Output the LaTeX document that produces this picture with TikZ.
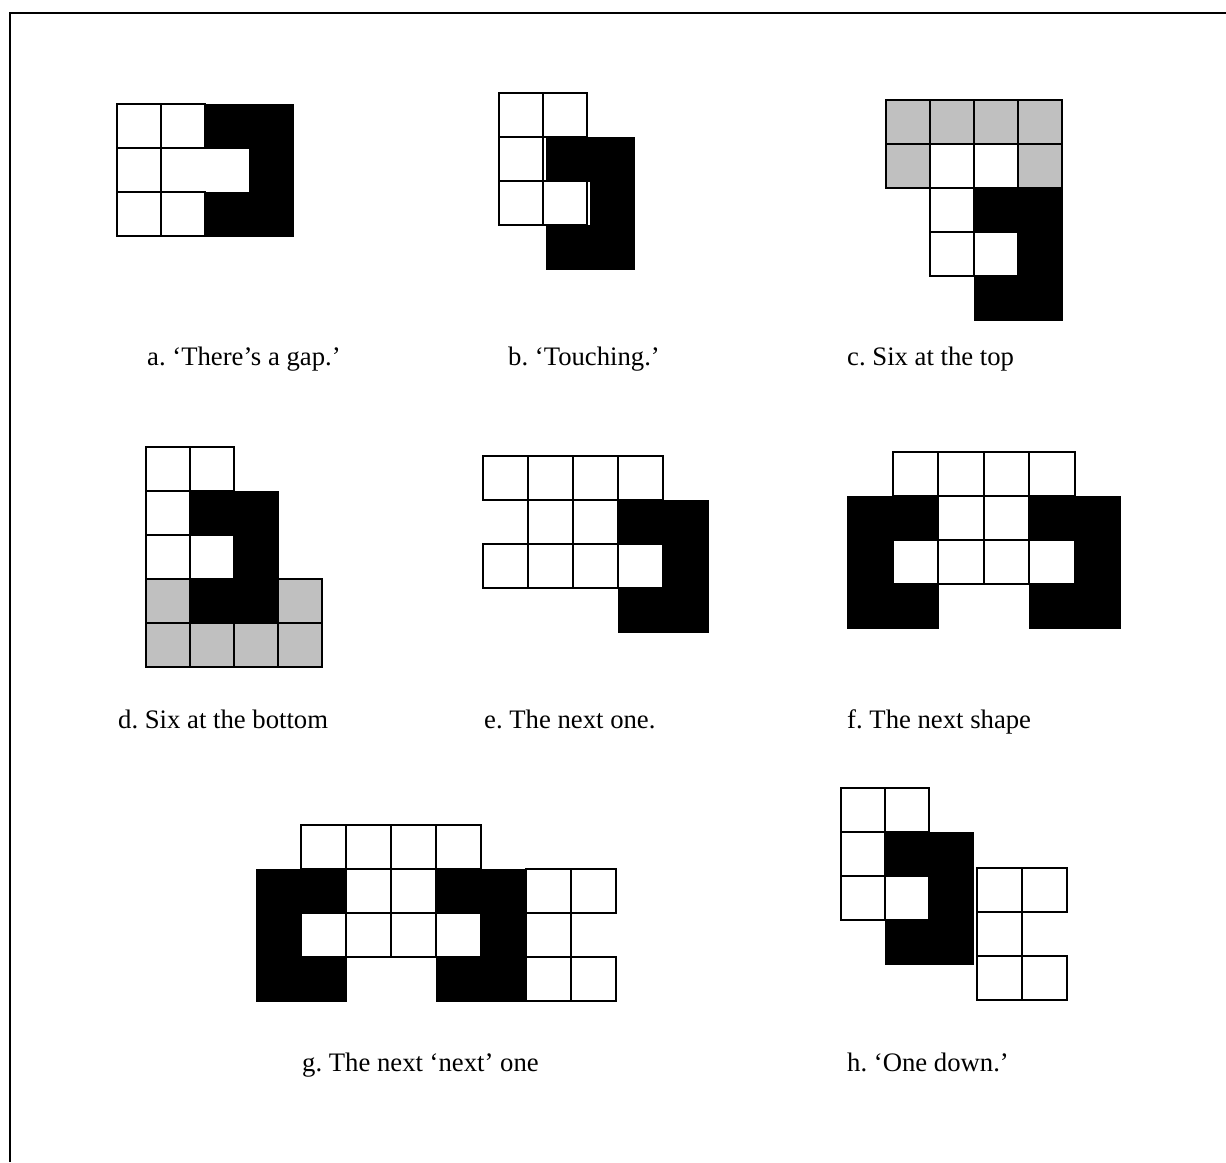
\documentclass[tikz,border=0pt]{standalone}
\usepackage{fontspec}
\setmainfont{Liberation Serif}
\definecolor{cellgray}{RGB}{192,192,192}
\begin{document}
\frenchspacing
\begin{tikzpicture}[x=1pt, y=-1pt,
    wsq/.style={draw, line width=2pt, fill=white},
    gsq/.style={draw, line width=2pt, fill=cellgray},
    bsq/.style={draw=black, fill=black},
    lbl/.style={anchor=base west, inner sep=0pt, font=\fontsize{26.7}{32}\selectfont}]
  \useasboundingbox (0,0) rectangle (1226,1162);
  \draw[line width=2pt] (10,1162) -- (10,13) -- (1226,13);

  % a
  \begin{scope}[shift={(117,104)}, x=44pt, y=-44pt]
    \foreach \c/\r in {0/0,1/0,0/1,0/2,1/2} \draw[wsq] (\c,\r) rectangle +(1,1);
    \foreach \c/\r in {2/0,3/0,3/1,2/2,3/2} \draw[bsq] (\c,\r) rectangle +(1,1);
  \end{scope}
  % b
  \begin{scope}[shift={(502,93)}, x=44pt, y=-44pt]
    \foreach \c/\r in {1/1,2/1,2/2,1/3,2/3} \draw[bsq] (\c,\r) rectangle +(1,1);
  \end{scope}
  \begin{scope}[shift={(499,93)}, x=44pt, y=-44pt]
    \foreach \c/\r in {0/0,1/0,0/1,0/2,1/2} \draw[wsq] (\c,\r) rectangle +(1,1);
  \end{scope}
  % c
  \begin{scope}[shift={(886,100)}, x=44pt, y=-44pt]
    \foreach \c/\r in {0/0,1/0,2/0,3/0,0/1,3/1} \draw[gsq] (\c,\r) rectangle +(1,1);
    \foreach \c/\r in {2/2,3/2,3/3,2/4,3/4} \draw[bsq] (\c,\r) rectangle +(1,1);
    \foreach \c/\r in {1/1,2/1,1/2,1/3,2/3} \draw[wsq] (\c,\r) rectangle +(1,1);
  \end{scope}
  % d
  \begin{scope}[shift={(146,447)}, x=44pt, y=-44pt]
    \foreach \c/\r in {1/1,2/1,2/2,1/3,2/3} \draw[bsq] (\c,\r) rectangle +(1,1);
    \foreach \c/\r in {0/0,1/0,0/1,0/2,1/2} \draw[wsq] (\c,\r) rectangle +(1,1);
    \foreach \c/\r in {0/3,3/3,0/4,1/4,2/4,3/4} \draw[gsq] (\c,\r) rectangle +(1,1);
  \end{scope}
  % e
  \begin{scope}[shift={(483,456)}, x=45pt, y=-44pt]
    \foreach \c/\r in {3/1,4/1,4/2,3/3,4/3} \draw[bsq] (\c,\r) rectangle +(1,1);
    \foreach \c/\r in {0/0,1/0,2/0,3/0,1/1,2/1,0/2,1/2,2/2,3/2} \draw[wsq] (\c,\r) rectangle +(1,1);
  \end{scope}
  % f
  \begin{scope}[shift={(847,452)}, x=45.5pt, y=-44pt]
    \foreach \c/\r in {0/1,1/1,4/1,5/1,0/2,5/2,0/3,1/3,4/3,5/3} \draw[bsq] (\c,\r) rectangle +(1,1);
    \foreach \c/\r in {1/0,2/0,3/0,4/0,2/1,3/1,1/2,2/2,3/2,4/2} \draw[wsq] (\c,\r) rectangle +(1,1);
  \end{scope}
  % g
  \begin{scope}[shift={(256,825)}, x=45pt, y=-44pt]
    \foreach \c/\r in {0/1,1/1,4/1,5/1,0/2,5/2,0/3,1/3,4/3,5/3} \draw[bsq] (\c,\r) rectangle +(1,1);
    \foreach \c/\r in {1/0,2/0,3/0,4/0,2/1,3/1,6/1,7/1,1/2,2/2,3/2,4/2,6/2,6/3,7/3}
      \draw[wsq] (\c,\r) rectangle +(1,1);
  \end{scope}
  % h
  \begin{scope}[shift={(841,788)}, x=44pt, y=-44pt]
    \foreach \c/\r in {1/1,2/1,2/2,1/3,2/3} \draw[bsq] (\c,\r) rectangle +(1,1);
    \foreach \c/\r in {0/0,1/0,0/1,0/2,1/2} \draw[wsq] (\c,\r) rectangle +(1,1);
  \end{scope}
  \begin{scope}[shift={(977,868)}, x=45pt, y=-44pt]
    \foreach \c/\r in {0/0,1/0,0/1,0/2,1/2} \draw[wsq] (\c,\r) rectangle +(1,1);
  \end{scope}

  \node[lbl] (la) at (147,365) {a. ‘There’s a gap.’};
  \node[lbl] (lb) at (508,365) {b. ‘Touching.’};
  \node[lbl] (lc) at (847,365) {c. Six at the top};
  \node[lbl] (ld) at (118,728) {d. Six at the bottom};
  \node[lbl] (le) at (484,728) {e. The next one.};
  \node[lbl] (lf) at (847,728) {f. The next shape};
  \node[lbl] (lg) at (302,1071) {g. The next ‘next’ one};
  \node[lbl] (lh) at (847,1071) {h. ‘One down.’};
\end{tikzpicture}
\end{document}
